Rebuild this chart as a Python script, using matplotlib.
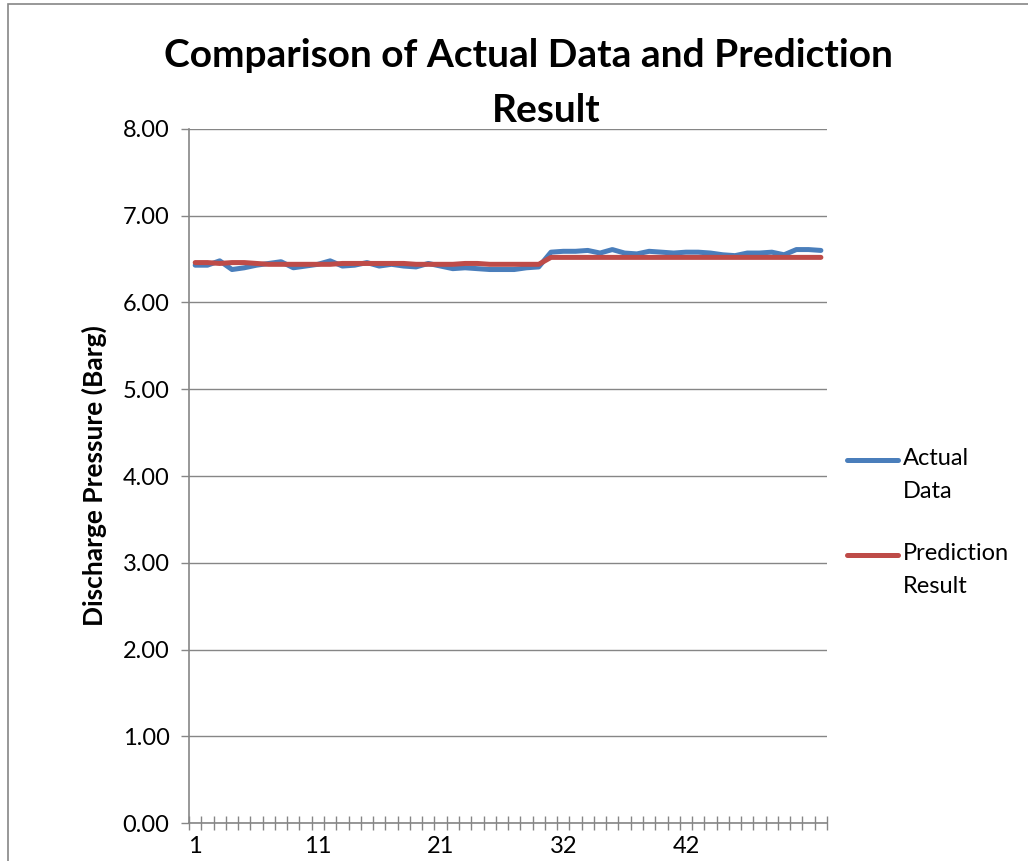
import matplotlib.pyplot as plt
from matplotlib.lines import Line2D
from matplotlib.patches import Rectangle
from matplotlib.ticker import FixedLocator, NullFormatter

plt.rcParams['font.family'] = ['Lato', 'DejaVu Sans']

# sample labels (one reading number is missing in the log)
x_labels = list(range(1, 29)) + list(range(30, 54))

actual_data = [6.43, 6.43, 6.48, 6.38, 6.40, 6.43, 6.45, 6.47, 6.40, 6.42,
               6.44, 6.48, 6.42, 6.43, 6.46, 6.42, 6.44, 6.42, 6.41, 6.45,
               6.42, 6.39, 6.40, 6.39, 6.38, 6.38, 6.38, 6.40, 6.41,
               6.58, 6.59, 6.59, 6.60, 6.57, 6.61, 6.57, 6.56, 6.59, 6.58,
               6.57, 6.58, 6.58, 6.57, 6.55, 6.54, 6.57, 6.57, 6.58, 6.55,
               6.61, 6.61, 6.60]

prediction = [6.46, 6.46, 6.45, 6.46, 6.46, 6.45, 6.44, 6.44, 6.44, 6.44,
              6.44, 6.44, 6.45, 6.45, 6.45, 6.45, 6.45, 6.45, 6.44, 6.44,
              6.44, 6.44, 6.45, 6.45, 6.44, 6.44, 6.44, 6.44, 6.44,
              6.52, 6.52, 6.52, 6.52, 6.52, 6.52, 6.52, 6.52, 6.52, 6.52,
              6.52, 6.52, 6.52, 6.52, 6.52, 6.52, 6.52, 6.52, 6.52, 6.52,
              6.52, 6.52, 6.52]

y_ticks = [0, 1, 2, 3, 4, 5, 6, 7, 8]

blue = '#4A7EBB'
red = '#BE4B48'
grey = '#868686'

fig = plt.figure(figsize=(10.28, 8.61), dpi=100)
ax = fig.add_axes([0.1839, 0.0441, 0.6206, 0.8061])

pos = list(range(len(x_labels)))
ax.plot(pos, actual_data, color=blue, lw=3.6, solid_capstyle='round', solid_joinstyle='round')
ax.plot(pos, prediction, color=red, lw=3.6, solid_capstyle='round', solid_joinstyle='round')

ax.set_xlim(-0.5, len(x_labels) - 0.5)
ax.set_ylim(0, 8)
ax.set_yticks(y_ticks)
ax.set_yticklabels(['%.2f' % v for v in y_ticks], fontsize=17)
ax.yaxis.grid(True, color=grey, lw=1)
ax.set_axisbelow(True)

# tick marks between categories, labels every 10th category up to 42
ax.xaxis.set_major_locator(FixedLocator([p - 0.5 for p in range(len(x_labels) + 1)]))
ax.xaxis.set_major_formatter(NullFormatter())
lab_pos = list(range(0, 41, 10))
ax.xaxis.set_minor_locator(FixedLocator(lab_pos))
ax.set_xticklabels([str(x_labels[i]) for i in lab_pos], minor=True, fontsize=17)
ax.tick_params(axis='x', which='major', direction='inout', length=10, color=grey, width=1)
ax.tick_params(axis='x', which='minor', length=0, pad=9)
ax.tick_params(axis='y', direction='out', length=6, color=grey, width=1, pad=8)

for side in ['top', 'right']:
    ax.spines[side].set_visible(False)
for side in ['left', 'bottom']:
    ax.spines[side].set_color(grey)
    ax.spines[side].set_linewidth(1.2)

ax.set_ylabel('Discharge Pressure (Barg)', fontsize=19, fontweight='bold', labelpad=11)

fig.text(528 / 1028, 1 - 38 / 861, 'Comparison of Actual Data and Prediction',
         ha='center', va='top', fontsize=28, fontweight='bold')
fig.text(546 / 1028, 1 - 93 / 861, 'Result',
         ha='center', va='top', fontsize=28, fontweight='bold')

# legend
for y, name, col in [(460, 'Actual\nData', blue), (555, 'Prediction\nResult', red)]:
    fy = 1 - y / 861
    fig.lines.append(Line2D([847 / 1028, 898 / 1028], [fy, fy], transform=fig.transFigure,
                            color=col, lw=3.6, solid_capstyle='round'))
    fig.text(903 / 1028, fy + 12 / 861, name, ha='left', va='top', fontsize=17, linespacing=1.7)

# chart border
fig.patches.append(Rectangle((8 / 1028, -0.1), 1.2, 1.1 - 4 / 861, transform=fig.transFigure,
                             fill=False, edgecolor=grey, lw=1.2))

fig.savefig('out.png', dpi=100)
